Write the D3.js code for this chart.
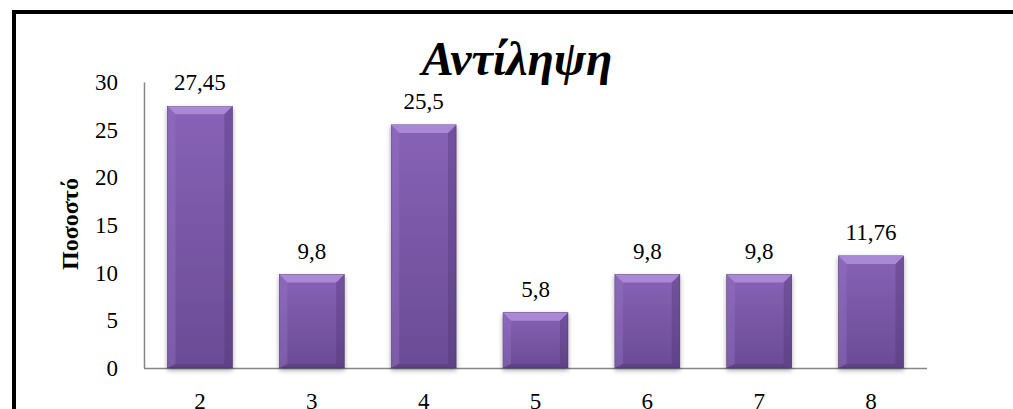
<!DOCTYPE html>
<html>
<head>
<meta charset="utf-8">
<script src="https://cdn.jsdelivr.net/npm/d3@7"></script>
<style>
  body { margin: 0; background: #fff; overflow: hidden; }
</style>
</head>
<body>
<svg id="chart"></svg>
<script>
// chart values
const categories = ['2', '3', '4', '5', '6', '7', '8'];
const values = [27.45, 9.8, 25.5, 5.8, 9.8, 9.8, 11.76];
const valueLabels = ['27,45', '9,8', '25,5', '5,8', '9,8', '9,8', '11,76'];
const yTicks = [0, 5, 10, 15, 20, 25, 30];

const serif = '"Liberation Serif"';

const w = 1013, h = 409;
const margin = { top: 82, right: 86, bottom: 41, left: 144 };
const innerW = w - margin.left - margin.right;
const innerH = h - margin.top - margin.bottom;

const svg = d3.select('#chart')
    .attr('width', w)
    .attr('height', h)
    .style('font-family', serif);

const defs = svg.append('defs');
const grad = defs.append('linearGradient')
    .attr('id', 'barFill')
    .attr('x1', 0).attr('y1', 0).attr('x2', 0).attr('y2', 1);
grad.append('stop').attr('offset', '0%').attr('stop-color', '#8862b6');
grad.append('stop').attr('offset', '100%').attr('stop-color', '#6a4b95');

const shadow = defs.append('filter').attr('id', 'shadow')
    .attr('x', '-20%').attr('y', '-10%').attr('width', '140%').attr('height', '130%');
shadow.append('feGaussianBlur').attr('in', 'SourceAlpha').attr('stdDeviation', 2.5);
shadow.append('feOffset').attr('dx', 0).attr('dy', 2).attr('result', 'b');
shadow.append('feComponentTransfer').append('feFuncA').attr('type', 'linear').attr('slope', 0.35);
const merge = shadow.append('feMerge');
merge.append('feMergeNode');
merge.append('feMergeNode').attr('in', 'SourceGraphic');

// frame (only left and top edges are in view)
svg.append('path')
    .attr('d', `M14,${h + 10} L14,12 L${w + 10},12`)
    .attr('fill', 'none')
    .attr('stroke', '#000')
    .attr('stroke-width', 4);

const g = svg.append('g')
    .attr('transform', `translate(${margin.left},${margin.top})`);

const xScale = d3.scaleBand()
    .domain(categories)
    .range([0, innerW])
    .paddingInner(0.42)
    .paddingOuter(0.21);

const yScale = d3.scaleLinear()
    .domain([0, 30])
    .range([innerH, 0]);

// y axis
const yAxis = d3.axisLeft(yScale)
    .tickValues(yTicks)
    .tickSize(0)
    .tickPadding(26);
const yG = g.append('g').call(yAxis);
yG.attr('font-family', null);
yG.select('.domain').attr('stroke', '#868686').attr('stroke-width', 1.5);
yG.selectAll('text')
    .attr('font-size', 23)
    .attr('fill', '#000')
    .style('font-family', serif);

// x axis
const xAxis = d3.axisBottom(xScale)
    .tickSize(0)
    .tickPadding(25);
const xG = g.append('g')
    .attr('transform', `translate(0,${innerH})`)
    .call(xAxis);
xG.attr('font-family', null);
xG.select('.domain').attr('stroke', '#868686').attr('stroke-width', 1.5)
    .attr('d', `M0,0.5H${innerW}`);
xG.selectAll('text')
    .attr('font-size', 23)
    .attr('fill', '#000')
    .style('font-family', serif);

// bars
const bv = 8;
const bars = g.selectAll('.bar')
    .data(values)
    .join('g')
    .attr('class', 'bar');

bars.append('rect')
    .attr('x', (d, i) => xScale(categories[i]))
    .attr('y', d => yScale(d))
    .attr('width', xScale.bandwidth())
    .attr('height', d => innerH - yScale(d))
    .attr('fill', 'url(#barFill)')
    .attr('stroke', '#4a3270')
    .attr('stroke-width', 0.6)
    .attr('filter', 'url(#shadow)');

// bevel: top light, sides and bottom shaded
bars.append('path')
    .attr('d', (d, i) => {
        const x0 = xScale(categories[i]), x1 = x0 + xScale.bandwidth(), y0 = yScale(d);
        return `M${x0},${y0}L${x1},${y0}L${x1 - bv},${y0 + bv}L${x0 + bv},${y0 + bv}Z`;
    })
    .attr('fill', '#ad8dd9')
    .attr('opacity', 0.9);
bars.append('path')
    .attr('d', (d, i) => {
        const x0 = xScale(categories[i]), y0 = yScale(d), y1 = innerH;
        return `M${x0},${y0}L${x0 + bv},${y0 + bv}L${x0 + bv},${y1 - 4}L${x0},${y1}Z`;
    })
    .attr('fill', '#9370c2')
    .attr('opacity', 0.45);
bars.append('path')
    .attr('d', (d, i) => {
        const x1 = xScale(categories[i]) + xScale.bandwidth(), y0 = yScale(d), y1 = innerH;
        return `M${x1},${y0}L${x1 - bv},${y0 + bv}L${x1 - bv},${y1 - 4}L${x1},${y1}Z`;
    })
    .attr('fill', '#4e3573')
    .attr('opacity', 0.35);
bars.append('path')
    .attr('d', (d, i) => {
        const x0 = xScale(categories[i]), x1 = x0 + xScale.bandwidth(), y1 = innerH;
        return `M${x0},${y1}L${x0 + bv},${y1 - 4}L${x1 - bv},${y1 - 4}L${x1},${y1}Z`;
    })
    .attr('fill', '#4e3573')
    .attr('opacity', 0.4);

// value labels
g.selectAll('.val')
    .data(values)
    .join('text')
    .attr('class', 'val')
    .attr('x', (d, i) => xScale(categories[i]) + xScale.bandwidth() / 2)
    .attr('y', d => yScale(d) - 16)
    .attr('text-anchor', 'middle')
    .attr('font-size', 23)
    .style('font-family', serif)
    .text((d, i) => valueLabels[i]);

// title
svg.append('text')
    .attr('x', 517)
    .attr('y', 75)
    .attr('text-anchor', 'middle')
    .attr('font-size', 48)
    .attr('font-weight', 'bold')
    .attr('font-style', 'italic')
    .style('font-family', serif)
    .text('Αντίληψη');

// y axis title
svg.append('text')
    .attr('transform', `translate(78,224) rotate(-90)`)
    .attr('text-anchor', 'middle')
    .attr('font-size', 24)
    .attr('font-weight', 'bold')
    .style('font-family', serif)
    .text('Ποσοστό');
</script>
</body>
</html>
